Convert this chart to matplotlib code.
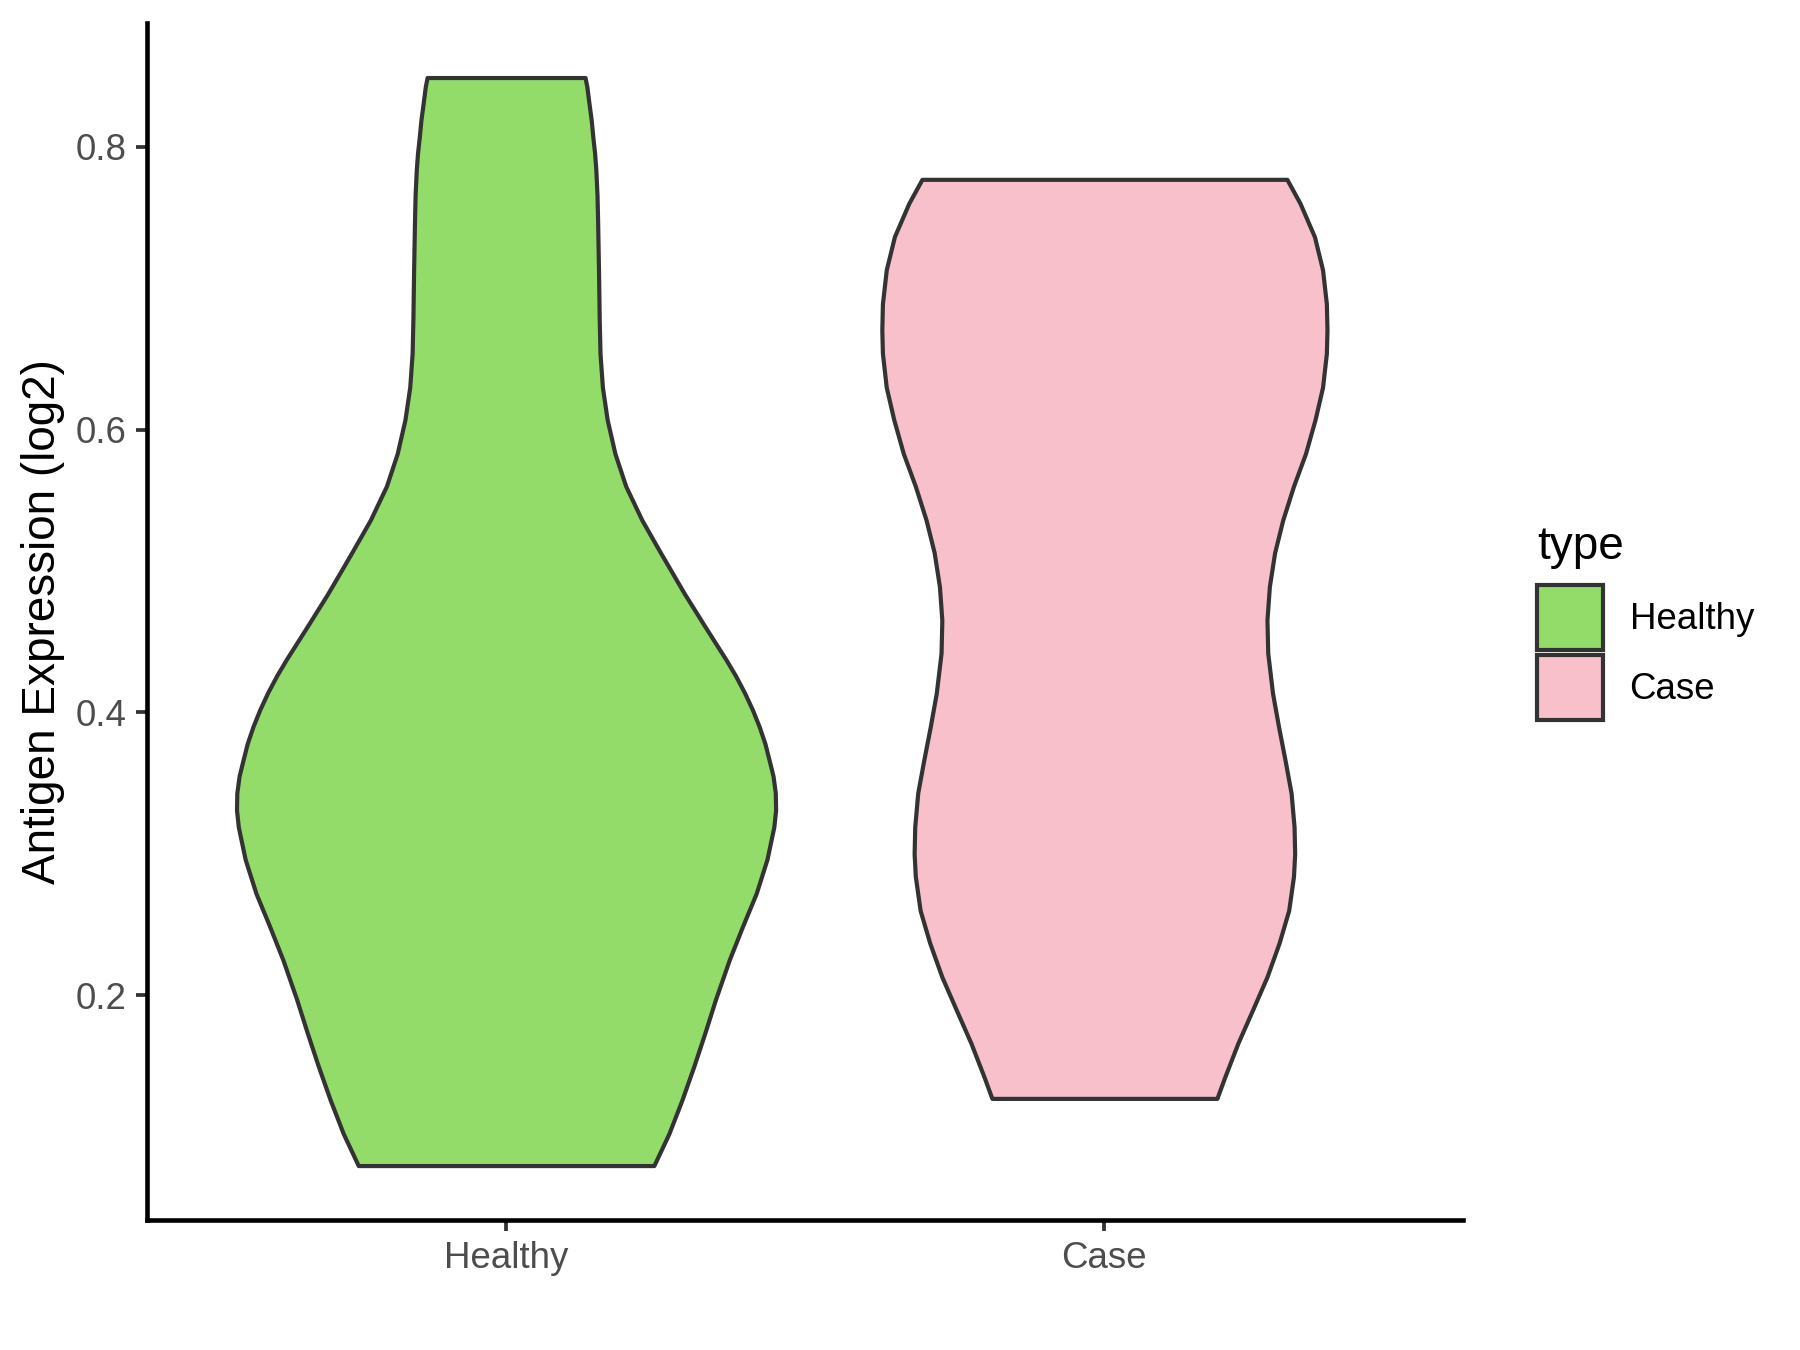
import matplotlib
matplotlib.use("Agg")
import matplotlib.pyplot as plt
from matplotlib.patches import Patch

plt.rcParams['font.family'] = ['Liberation Sans', 'DejaVu Sans']

# groups shown on the x axis
groups = ['Healthy', 'Case']
colors = ['#93DC6A', '#F7C0CB']

# violin outlines: expression level and half width (category units)
healthy_y = [0.849, 0.8426, 0.831, 0.819, 0.807, 0.7955, 0.784, 0.766, 0.748, 0.713,
             0.678, 0.654, 0.630, 0.607, 0.583, 0.560, 0.536, 0.513, 0.484, 0.461,
             0.437, 0.426, 0.414, 0.402, 0.390, 0.378, 0.366, 0.355, 0.343, 0.331,
             0.319, 0.296, 0.272, 0.249, 0.225, 0.197, 0.173, 0.150, 0.126, 0.102,
             0.0795]
healthy_w = [0.132, 0.135, 0.1385, 0.1423, 0.145, 0.148, 0.150, 0.152, 0.153, 0.1545,
             0.1557, 0.157, 0.161, 0.169, 0.182, 0.200, 0.227, 0.258, 0.298, 0.332,
             0.368, 0.3834, 0.3984, 0.4116, 0.423, 0.4326, 0.4398, 0.4462, 0.450, 0.4505,
             0.4475, 0.436, 0.418, 0.3955, 0.373, 0.350, 0.332, 0.314, 0.294, 0.272,
             0.247]

case_y = [0.777, 0.760, 0.7365, 0.713, 0.689, 0.6705, 0.654, 0.630, 0.607, 0.583,
          0.560, 0.536, 0.513, 0.489, 0.4654, 0.442, 0.4136, 0.390, 0.366, 0.343,
          0.319, 0.300, 0.284, 0.260, 0.237, 0.213, 0.190, 0.166, 0.142, 0.127]
case_w = [0.305, 0.327, 0.351, 0.3646, 0.371, 0.372, 0.371, 0.3646, 0.352, 0.336,
          0.316, 0.298, 0.2845, 0.2757, 0.2717, 0.273, 0.281, 0.291, 0.302, 0.312,
          0.317, 0.318, 0.316, 0.308, 0.292, 0.2717, 0.248, 0.223, 0.201, 0.188]

y_ticks = [0.2, 0.4, 0.6, 0.8]

fig = plt.figure(figsize=(6, 4.5), dpi=300)
ax = fig.add_axes([0.0817, 0.0963, 0.7313, 0.8867])

profiles = [(healthy_y, healthy_w), (case_y, case_w)]
for i, (ys, ws) in enumerate(profiles):
    pos = i + 1
    left = [pos - w for w in ws]
    right = [pos + w for w in ws]
    ax.fill_betweenx(ys, left, right, facecolor=colors[i], edgecolor='#333333',
                     linewidth=1.0, joinstyle='round', zorder=2)

ax.set_xlim(0.4, 2.6)
ax.set_ylim(0.041, 0.8876)
ax.set_xticks([1, 2])
ax.set_xticklabels(groups)
ax.set_yticks(y_ticks)
ax.set_yticklabels([f'{t:.1f}' for t in y_ticks])
ax.tick_params(axis='both', direction='out', length=2.75, width=0.9, color='#333333',
               labelsize=8.8, labelcolor='#4D4D4D', pad=2.2)
ax.set_ylabel('Antigen Expression (log2)', fontsize=11, color='black', labelpad=2.6)

for side in ['top', 'right']:
    ax.spines[side].set_visible(False)
for side in ['left', 'bottom']:
    ax.spines[side].set_linewidth(1.1)
    ax.spines[side].set_color('black')

handles = [Patch(facecolor=colors[i], edgecolor='#333333', linewidth=1.0, label=g)
           for i, g in enumerate(groups)]
leg = fig.legend(handles=handles, title='type', loc='center left',
                 bbox_to_anchor=(0.854, 0.539), frameon=False, fontsize=8.8,
                 title_fontsize=11, handlelength=1.8, handleheight=2.37,
                 labelspacing=0.12, handletextpad=0.72, borderpad=0, borderaxespad=0)
leg._legend_box.align = 'left'
leg._legend_box.sep = 3.9

fig.savefig('out.png', dpi=300, facecolor='white')
